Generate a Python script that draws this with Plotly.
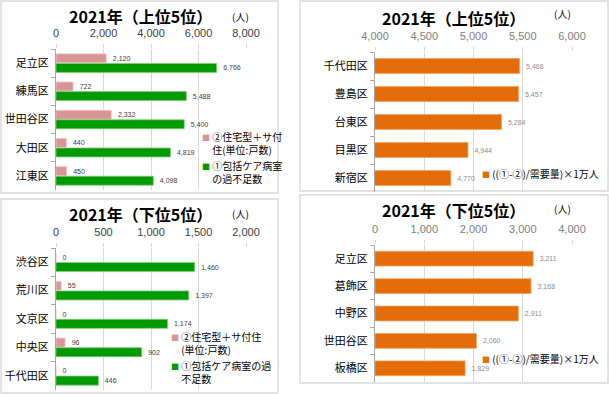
import plotly.graph_objects as go

W, H = 609, 394
FONT = "Noto Sans CJK JP"
NUMFONT = "Liberation Sans"

# ---- data ----
tl_cats = ["足立区", "練馬区", "世田谷区", "大田区", "江東区"]
tl_house = [2120, 722, 2332, 440, 450]
tl_beds = [6766, 5488, 5400, 4819, 4098]

bl_cats = ["渋谷区", "荒川区", "文京区", "中央区", "千代田区"]
bl_house = [0, 55, 0, 96, 0]
bl_beds = [1460, 1397, 1174, 902, 446]

tr_cats = ["千代田区", "豊島区", "台東区", "目黒区", "新宿区"]
tr_vals = [5468, 5457, 5284, 4944, 4770]

br_cats = ["足立区", "葛飾区", "中野区", "世田谷区", "板橋区"]
br_vals = [3211, 3168, 2911, 2060, 1829]

title_top = "2021年（上位5位）"
title_bottom = "2021年（下位5位）"
unit = "(人)"
house_top = ["②住宅型＋サ付", "住(単位:戸数)"]
beds_top = ["①包括ケア病室", "の過不足数"]
house_bot = ["②住宅型＋サ付住", "(単位:戸数)"]
beds_bot = ["①包括ケア病室の過", "不足数"]
ratio_name = ["((①-②)/需要量)×1万人"]

PINK = "#D99594"
GREEN = "#009A00"
ORANGE = "#E46C0A"


def px(x):
    return x / W


def py(y):
    return 1 - y / H


def legend_label(lines, color):
    sq = f"<span style='color:{color};font-size:8px'>■</span> "
    blank = "<span style='color:rgba(0,0,0,0);font-size:8px'>■</span> "
    out = [sq + lines[0]] + [blank + l for l in lines[1:]]
    return "<br>".join(out)


def lbl(vals):
    return ["\u2002" + f"{v:,}" for v in vals]


fig = go.Figure()


def add_legend_entry(name, color, xa, ya, lg):
    fig.add_trace(go.Scatter(
        x=[None], y=[None], mode="markers", xaxis=xa, yaxis=ya, legend=lg,
        name=legend_label(name, color), showlegend=True, hoverinfo="skip",
        marker=dict(color="rgba(0,0,0,0)", size=1),
    ))


# left panels: paired bars
for cats, house, beds, xa, ya, lg, nh, nb in [
    (tl_cats, tl_house, tl_beds, "x", "y", "legend", house_top, beds_top),
    (bl_cats, bl_house, bl_beds, "x2", "y2", "legend2", house_bot, beds_bot),
]:
    fig.add_trace(go.Bar(
        y=cats, x=house, orientation="h", xaxis=xa, yaxis=ya, showlegend=False,
        marker=dict(color=PINK, line=dict(color="#F2D0CF", width=0.8)),
        width=0.32, offset=-0.33,
        text=lbl(house), textposition="outside",
        textfont=dict(size=7, color="#404040", family=NUMFONT), cliponaxis=False,
    ))
    fig.add_trace(go.Bar(
        y=cats, x=beds, orientation="h", xaxis=xa, yaxis=ya, showlegend=False,
        marker=dict(color=GREEN, line=dict(color="#7FD07F", width=0.8)),
        width=0.32, offset=0.01,
        text=lbl(beds), textposition="outside",
        textfont=dict(size=7, color="#404040", family=NUMFONT), cliponaxis=False,
    ))
    add_legend_entry(nh, PINK, xa, ya, lg)
    add_legend_entry(nb, GREEN, xa, ya, lg)

# right panels: single bars
for cats, vals, xa, ya, lg in [
    (tr_cats, tr_vals, "x3", "y3", "legend3"),
    (br_cats, br_vals, "x4", "y4", "legend4"),
]:
    fig.add_trace(go.Bar(
        y=cats, x=vals, orientation="h", xaxis=xa, yaxis=ya, showlegend=False,
        marker=dict(color=ORANGE, line=dict(color="#F4A460", width=0.8)),
        width=0.54, offset=-0.27,
        text=lbl(vals), textposition="outside",
        textfont=dict(size=7, color="#8C8C8C", family=NUMFONT), cliponaxis=False,
    ))
    add_legend_entry(ratio_name, ORANGE, xa, ya, lg)


def xaxis(dom_l, dom_r, anchor, rng, dtick, color):
    return dict(
        domain=[px(dom_l), px(dom_r)], anchor=anchor, side="top",
        range=rng, dtick=dtick, tickformat=",", showgrid=True,
        gridcolor="#D9D9D9", gridwidth=1, zeroline=False, showline=False,
        ticks="outside", ticklen=4, tickcolor="#D9D9D9",
        tickfont=dict(size=11, color=color, family=NUMFONT), ticklabelstandoff=3,
        automargin=False, fixedrange=True,
    )


def yaxis(top, bottom, anchor):
    return dict(
        domain=[py(bottom), py(top)], anchor=anchor, autorange="reversed",
        type="category", showline=True, linecolor="#A6A6A6", linewidth=1,
        ticks="outside", tickson="boundaries", ticklen=4, tickcolor="#A6A6A6",
        tickfont=dict(size=11, color="#000000", family=FONT),
        ticklabelstandoff=4, showgrid=False, automargin=False, fixedrange=True,
    )


def legend(x, y):
    return dict(x=px(x), y=py(y), xanchor="left", yanchor="top",
                bgcolor="rgba(0,0,0,0)", font=dict(size=10, color="#000", family=FONT),
                itemwidth=30, indentation=-15, tracegroupgap=0, traceorder="normal")


fig.update_layout(
    width=W, height=H, margin=dict(l=0, r=0, t=0, b=0, autoexpand=False),
    paper_bgcolor="white", plot_bgcolor="white",
    font=dict(family=FONT, color="#000000"),
    barmode="overlay",
    xaxis=xaxis(56, 246, "y", [0, 8000], 2000, "#404040"),
    yaxis=yaxis(49, 190, "x"),
    xaxis2=xaxis(56, 246, "y2", [0, 2000], 500, "#404040"),
    yaxis2=yaxis(248, 390, "x2"),
    xaxis3=xaxis(375, 572, "y3", [4000, 6000], 500, "#808080"),
    yaxis3=yaxis(52, 192, "x3"),
    xaxis4=xaxis(375, 572, "y4", [0, 4000], 1000, "#808080"),
    yaxis4=yaxis(245, 382, "x4"),
    legend=legend(177, 124),
    legend2=legend(146, 324),
    legend3=legend(457, 160),
    legend4=legend(457, 345),
)

# titles & unit labels
for (tx, ty, t) in [(140, 16, title_top), (453, 18, title_top),
                    (140, 214, title_bottom), (453, 210, title_bottom)]:
    fig.add_annotation(x=px(tx), y=py(ty), xref="paper", yref="paper",
                       text=f"<b>{t}</b>", showarrow=False,
                       font=dict(size=16, color="#000", family=FONT),
                       xanchor="center", yanchor="middle")
for (ux, uy) in [(240, 16), (240, 214), (562, 14), (562, 208)]:
    fig.add_annotation(x=px(ux), y=py(uy), xref="paper", yref="paper",
                       text=unit, showarrow=False,
                       font=dict(size=10, color="#000", family=FONT),
                       xanchor="center", yanchor="middle")

# panel borders
for (x0, y0, x1, y1) in [(1, 1, 278, 193), (1, 199, 278, 393),
                         (300, 1, 608, 191), (300, 195, 608, 383)]:
    fig.add_shape(type="rect", xref="paper", yref="paper",
                  x0=px(x0), x1=px(x1), y0=py(y1), y1=py(y0),
                  line=dict(color="#D9D9D9", width=1.5), layer="below")

fig.write_html(
    "out.html",
    config={"displayModeBar": False},
    post_script="document.body.style.margin='0';document.body.style.overflow='hidden';",
)
